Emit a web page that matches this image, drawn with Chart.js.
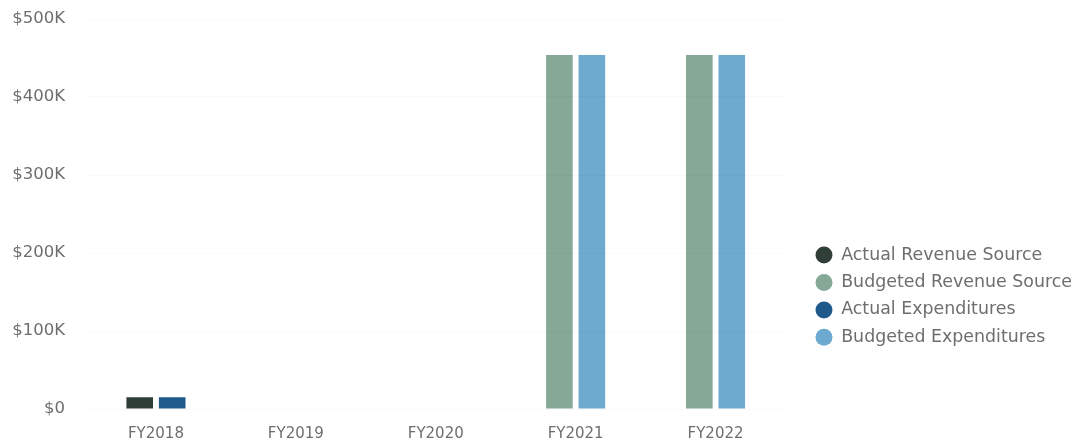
<!DOCTYPE html>
<html>
<head>
<meta charset="utf-8">
<script src="https://cdn.jsdelivr.net/npm/chart.js@4/dist/chart.umd.min.js"></script>
<style>
  html, body { margin: 0; padding: 0; background: #ffffff; }
  #wrap { width: 1082px; height: 445px; position: relative; }
</style>
</head>
<body>
<div id="wrap"><canvas id="chart"></canvas></div>
<script>
// Fiscal years on the x axis
const fiscalYears = ['FY2018', 'FY2019', 'FY2020', 'FY2021', 'FY2022'];

// Dollar amounts per fiscal year (null = no figure reported)
const actualRevenue        = [15000, null, null, null, null];
const budgetedRevenue      = [null, null, null, 454000, 454000];
const actualExpenditures   = [15000, null, null, null, null];
const budgetedExpenditures = [null, null, null, 454000, 454000];

// Series names shown in the legend
const seriesNames = ['Actual Revenue Source', 'Budgeted Revenue Source', 'Actual Expenditures', 'Budgeted Expenditures'];

const FONT = "'DejaVu Sans', sans-serif";
const TEXT = '#6e6e6e';

function money(v) {
  if (v === 0) return '$0';
  return '$' + (v / 1000) + 'K';
}

new Chart(document.getElementById('chart'), {
  type: 'bar',
  data: {
    labels: fiscalYears,
    datasets: [
      { label: seriesNames[0], data: actualRevenue, backgroundColor: '#2f3e37', stack: 'revenue' },
      { label: seriesNames[1], data: budgetedRevenue, backgroundColor: '#85a996', stack: 'revenue' },
      { label: seriesNames[2], data: actualExpenditures, backgroundColor: '#1f5a8a', stack: 'expenditures' },
      { label: seriesNames[3], data: budgetedExpenditures, backgroundColor: '#6ea9cf', stack: 'expenditures' }
    ]
  },
  options: {
    responsive: true,
    maintainAspectRatio: false,
    animation: false,
    categoryPercentage: 0.464,
    barPercentage: 0.82,
    layout: { padding: { top: 0, right: 0, left: 0, bottom: 2 } },
    plugins: {
      tooltip: { enabled: false },
      legend: {
        position: 'right',
        align: 'start',
        maxWidth: 400,
        title: { display: true, text: '', padding: { top: 222, bottom: 0 } },
        labels: {
          usePointStyle: true,
          pointStyle: 'circle',
          boxWidth: 17,
          boxHeight: 12,
          padding: 10,
          color: TEXT,
          font: { family: FONT, size: 17.4 }
        }
      }
    },
    scales: {
      x: {
        stacked: true,
        grid: { display: false, drawTicks: true, tickLength: 16 },
        border: { display: false },
        ticks: { color: TEXT, font: { family: FONT, size: 15 }, padding: 0 }
      },
      y: {
        stacked: true,
        min: 0,
        max: 500000,
        ticks: { stepSize: 100000, callback: money, color: TEXT, font: { family: FONT, size: 16.5 }, padding: 21 },
        grid: { color: 'rgba(0,0,0,0.02)', drawTicks: false, z: 1 },
        border: { display: false },
        afterFit(scale) { scale.width = 86; scale.paddingTop = 19; scale.paddingBottom = 10; }
      },
      gap: {
        position: 'right',
        display: true,
        ticks: { display: false },
        grid: { display: false, drawTicks: false },
        border: { display: false },
        afterFit(scale) { scale.width = 20; }
      }
    }
  }
});
</script>
</body>
</html>
